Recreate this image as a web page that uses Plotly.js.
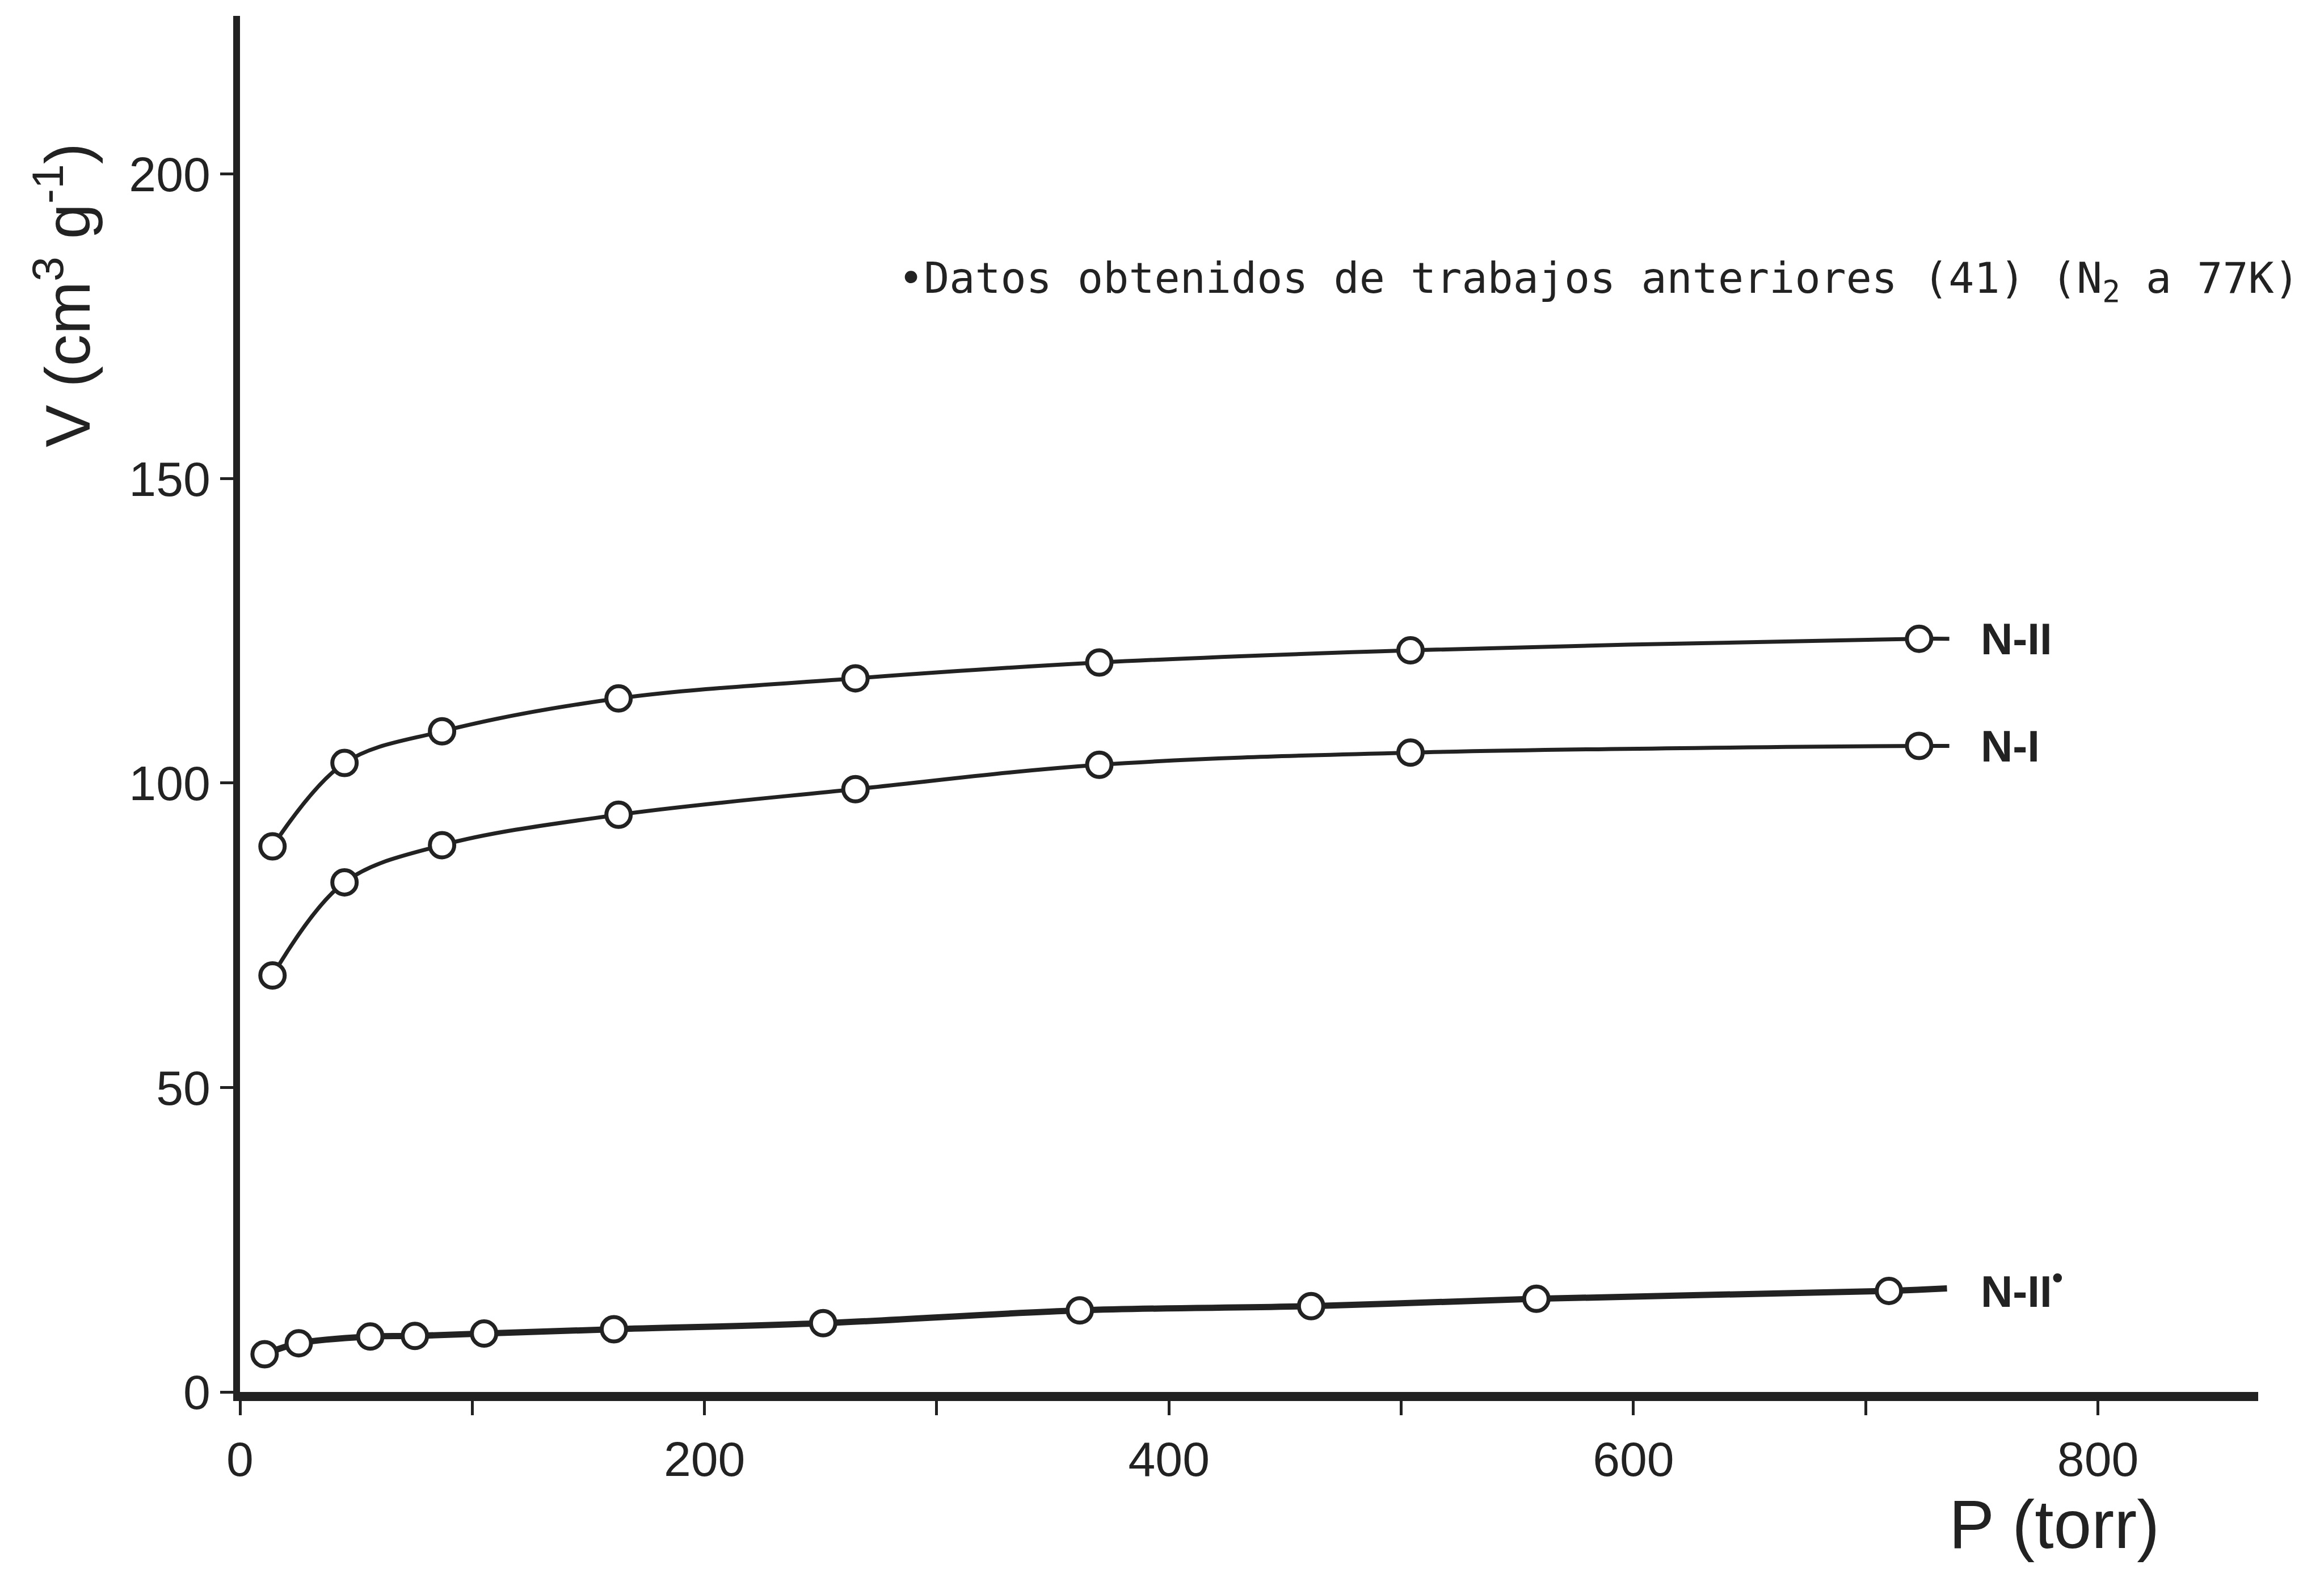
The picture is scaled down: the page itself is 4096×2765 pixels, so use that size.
<!DOCTYPE html>
<html>
<head>
<meta charset="utf-8">
<script src="https://cdn.plot.ly/plotly-3.0.1.min.js"></script>
<style>html,body{margin:0;padding:0;background:#fff;}#chart{width:4096px;height:2765px;}</style>
</head>
<body>
<div id="chart"></div>
<script>
// Pressure (torr) and adsorbed volume (cm3 g-1)
var pressureN = [14, 45, 87, 163, 265, 370, 504, 723];
var volumeNII = [89.6, 103.3, 108.5, 113.9, 117.2, 119.8, 121.8, 123.7];
var volumeNI  = [68.4, 83.7, 89.8, 94.8, 99.0, 103.0, 105.0, 106.1];
var pressureNIIstar = [10.6, 25.3, 56.1, 75.3, 105.1, 161.0, 251.1, 361.6, 461.2, 558.2, 710.0];
var volumeNIIstar   = [6.2, 8.0, 9.1, 9.2, 9.6, 10.3, 11.3, 13.4, 14.1, 15.3, 16.6];
// short line tails drawn towards the series labels
var tailP = [736, 736, 735];
var tailV = [123.7, 106.1, 17.0];
var seriesNames = ["N-II", "N-I", "N-II<sup>•</sup>"];
var xTickVals = [0, 200, 400, 600, 800];
var xTickText = ["0", "200", "400", "600", "800"];
var yTickVals = [0, 50, 100, 150, 200];
var yTickText = ["0", "50", "100", "150", "200"];

var ink = "#222222";

function lineTrace(xs, ys, tx, ty, w) {
  return {x: xs.concat([tx]), y: ys.concat([ty]), mode: "lines", type: "scatter",
    line: {color: ink, width: w, shape: "spline", smoothing: 1.0}, hoverinfo: "skip", showlegend: false};
}
function markTrace(xs, ys) {
  return {x: xs, y: ys, mode: "markers", type: "scatter",
    marker: {symbol: "circle", size: 43, color: "#ffffff", line: {color: ink, width: 7}},
    showlegend: false};
}

var data = [
  lineTrace(pressureN, volumeNII, tailP[0], tailV[0], 7),
  lineTrace(pressureN, volumeNI, tailP[1], tailV[1], 7),
  lineTrace(pressureNIIstar, volumeNIIstar, tailP[2], tailV[2], 11),
  markTrace(pressureN, volumeNII),
  markTrace(pressureN, volumeNI),
  markTrace(pressureNIIstar, volumeNIIstar)
];

var labelFont = {family: "Liberation Sans Narrow, Liberation Sans, Arial, sans-serif", size: 78, color: ink, weight: "bold"};
var annotations = [];
for (var i = 0; i < seriesNames.length; i++) {
  annotations.push({x: 749, y: tailV[i], xref: "x", yref: "y", text: seriesNames[i],
    showarrow: false, xanchor: "left", yanchor: "middle", font: labelFont});
}
annotations.push({x: 283, y: 182.5, xref: "x", yref: "y",
  text: "•Datos obtenidos de trabajos anteriores (41) (N<sub>2</sub> a 77K)",
  showarrow: false, xanchor: "left", yanchor: "middle",
  font: {family: "DejaVu Sans Mono, Liberation Mono, monospace", size: 75, color: ink}});
annotations.push({x: -0.0877, y: 0.797, xref: "paper", yref: "paper",
  text: "V (cm<sup>3</sup> g<sup>-1</sup>)", textangle: -90, showarrow: false,
  xanchor: "center", yanchor: "middle",
  font: {family: "Liberation Sans, Arial, sans-serif", size: 112, color: ink}});
annotations.push({x: 0.8988, y: -0.096, xref: "paper", yref: "paper",
  text: "P (torr)", showarrow: false, xanchor: "center", yanchor: "middle",
  font: {family: "Liberation Sans, Arial, sans-serif", size: 120, color: ink}});

var tickFont = {family: "Liberation Sans, Arial, sans-serif", size: 86, color: ink};
var layout = {
  width: 4096, height: 2765,
  margin: {l: 423, r: 116, t: 28, b: 312, pad: 0},
  paper_bgcolor: "#ffffff", plot_bgcolor: "#ffffff",
  showlegend: false,
  xaxis: {range: [0, 869], showgrid: false, zeroline: false, showline: true,
    linecolor: ink, linewidth: 16, ticks: "outside", ticklen: 25, tickwidth: 5, tickcolor: ink,
    tickmode: "array", tickvals: xTickVals, ticktext: xTickText, tickfont: tickFont, ticklabelstandoff: 4,
    minor: {tickmode: "linear", tick0: 0, dtick: 100, ticks: "outside", ticklen: 25, tickwidth: 5, tickcolor: ink, showgrid: false}},
  yaxis: {range: [0, 226], showgrid: false, zeroline: false, showline: true,
    linecolor: ink, linewidth: 12, ticks: "outside", ticklen: 23, tickwidth: 5, tickcolor: ink,
    tickmode: "array", tickvals: yTickVals, ticktext: yTickText, tickfont: tickFont},
  annotations: annotations
};

Plotly.newPlot("chart", data, layout, {staticPlot: true, displayModeBar: false});
</script>
</body>
</html>
